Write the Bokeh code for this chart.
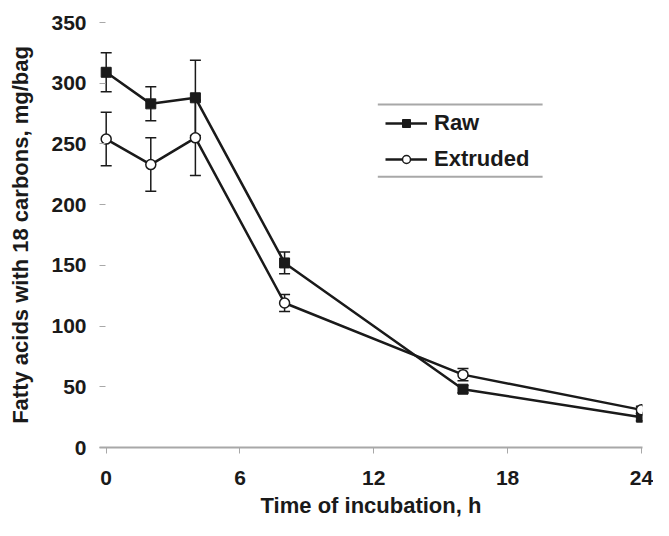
from bokeh.plotting import figure
from bokeh.models import ColumnDataSource, Whisker, TeeHead, FixedTicker, Legend, LegendItem, Range1d
from bokeh.embed import file_html
from bokeh.resources import INLINE

hours = [0, 2, 4, 8, 16, 24]
raw = [309, 283, 288, 152, 48, 25]
raw_err = [16, 14, 31, 9, 3, 3]
extruded = [254, 233, 255, 119, 60, 31]
ext_err = [22, 22, 31, 7, 5, 3]
x_ticks = [0, 6, 12, 18, 24]
y_ticks = [0, 50, 100, 150, 200, 250, 300, 350]

FONT = "Liberation Sans"
INK = "#1a1a1a"
GRID = "#a8a8a8"

p = figure(width=653, height=520, output_backend="svg", toolbar_location=None,
           x_range=Range1d(-0.3, 24.05), y_range=Range1d(0, 350),
           min_border_left=99, min_border_right=11, min_border_top=22, min_border_bottom=73)
p.outline_line_color = None
p.xgrid.visible = False
p.ygrid.visible = False

src_raw = ColumnDataSource(dict(x=hours, y=raw,
                                up=[v + e for v, e in zip(raw, raw_err)],
                                lo=[v - e for v, e in zip(raw, raw_err)]))
src_ext = ColumnDataSource(dict(x=hours, y=extruded,
                                up=[v + e for v, e in zip(extruded, ext_err)],
                                lo=[v - e for v, e in zip(extruded, ext_err)]))

for src in (src_raw, src_ext):
    w = Whisker(source=src, base="x", upper="up", lower="lo", line_color=INK, line_width=1.5,
                upper_head=TeeHead(size=11, line_color=INK, line_width=1.5),
                lower_head=TeeHead(size=11, line_color=INK, line_width=1.5))
    p.add_layout(w)

l_raw = p.line("x", "y", source=src_raw, line_color=INK, line_width=2.5)
m_raw = p.scatter("x", "y", source=src_raw, marker="square", size=10, fill_color=INK, line_color=INK)
l_ext = p.line("x", "y", source=src_ext, line_color=INK, line_width=2.5)
m_ext = p.scatter("x", "y", source=src_ext, marker="circle", size=10, fill_color="white",
                  line_color=INK, line_width=1.5)

# legend rules (decoration)
p.segment(x0=[12.18, 12.18], y0=[282.5, 223.0], x1=[19.57, 19.57], y1=[282.5, 223.0],
          line_color=GRID, line_width=2)

legend = Legend(items=[LegendItem(label="Raw", renderers=[l_raw, m_raw]),
                       LegendItem(label="Extruded", renderers=[l_ext, m_ext])],
                location=(286, 275), orientation="vertical",
                border_line_color=None, background_fill_alpha=0,
                glyph_width=42, glyph_height=20, label_height=20, spacing=10,
                padding=0, margin=0, label_standoff=7,
                label_text_font=FONT, label_text_font_style="bold",
                label_text_font_size="22px", label_text_color=INK)
p.add_layout(legend)

p.xaxis.ticker = FixedTicker(ticks=x_ticks)
p.yaxis.ticker = FixedTicker(ticks=y_ticks)
p.xaxis.minor_tick_line_color = None
p.yaxis.minor_tick_line_color = None

p.xaxis.axis_line_color = GRID
p.xaxis.axis_line_width = 2
p.xaxis.major_tick_line_color = GRID
p.xaxis.major_tick_in = 0
p.xaxis.major_tick_out = 6
p.xaxis.major_label_standoff = 17

p.yaxis.axis_line_color = None
p.yaxis.major_tick_line_color = GRID
p.yaxis.major_tick_in = 6
p.yaxis.major_tick_out = 0
p.yaxis.major_label_standoff = 13

for ax in (p.xaxis[0], p.yaxis[0]):
    ax.major_label_text_font = FONT
    ax.major_label_text_font_style = "bold"
    ax.major_label_text_font_size = "21px"
    ax.major_label_text_color = INK
    ax.axis_label_text_font = FONT
    ax.axis_label_text_font_style = "bold"
    ax.axis_label_text_font_size = "22px"
    ax.axis_label_text_color = INK

p.xaxis.axis_label = "Time of incubation, h"
p.yaxis.axis_label = "Fatty acids with 18 carbons, mg/bag"
p.xaxis.axis_label_standoff = 5
p.yaxis.axis_label_standoff = 15

open("out.html", "w").write(file_html(p, INLINE))
